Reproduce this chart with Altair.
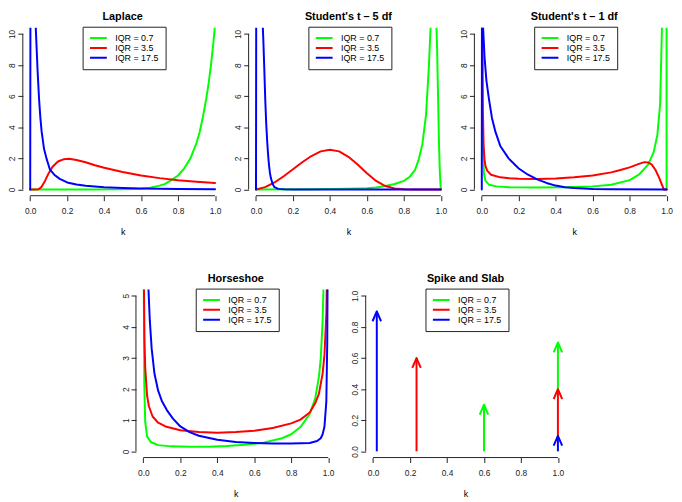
import altair as alt
import pandas as pd

# ---------------- data ----------------
SERIES = ["IQR = 0.7", "IQR = 3.5", "IQR = 17.5"]
COLORS = ["#00ff00", "#ff0000", "#0000ff"]
TITLES = ["Laplace", "Student's t \u2013 5 df", "Student's t \u2013 1 df", "Horseshoe", "Spike and Slab"]
K_TICKS = [0.0, 0.2, 0.4, 0.6, 0.8, 1.0]
Y_TICKS_TOP = [0, 2, 4, 6, 8, 10]
Y_TICKS_HS = [0, 1, 2, 3, 4, 5]
Y_TICKS_SS = [0.0, 0.2, 0.4, 0.6, 0.8, 1.0]

# Laplace
LAP_G_K = [0, 0.3, 0.5, 0.6, 0.65, 0.7, 0.73, 0.77, 0.8, 0.83, 0.867, 0.9, 0.917, 0.935, 0.952, 0.965, 0.977, 0.99, 1.0]
LAP_G_V = [0, 0.0, 0.01, 0.05, 0.12, 0.25, 0.36, 0.65, 0.9, 1.3, 2.0, 3.0, 3.7, 4.7, 5.8, 6.8, 7.9, 9.3, 10.6]
LAP_R_K = [0, 0.03, 0.045, 0.06, 0.08, 0.1, 0.12, 0.15, 0.18, 0.21, 0.25, 0.3, 0.35, 0.4, 0.5, 0.6, 0.7, 0.8, 0.9, 1.0]
LAP_R_V = [0, 0, 0.02, 0.15, 0.55, 1.05, 1.45, 1.8, 1.94, 1.97, 1.9, 1.75, 1.56, 1.4, 1.12, 0.9, 0.73, 0.6, 0.5, 0.42]
LAP_B_K = [0, 0.004, 0.02, 0.03, 0.04, 0.048, 0.055, 0.062, 0.075, 0.088, 0.106, 0.13, 0.16, 0.2, 0.25, 0.3, 0.4, 0.5, 0.6, 0.7, 0.8, 1.0]
LAP_B_V = [0, 40, 15, 10.4, 7.6, 5.8, 4.6, 3.7, 2.6, 2.0, 1.3, 0.95, 0.68, 0.45, 0.32, 0.24, 0.14, 0.09, 0.06, 0.04, 0.03, 0.01]

# Student's t, 5 df
T5_G_K = [0, 0.3, 0.5, 0.6, 0.65, 0.7, 0.75, 0.8, 0.83, 0.86, 0.88, 0.9, 0.92, 0.935, 0.945, 0.96, 0.975, 0.98, 0.985, 0.99, 0.995, 1.0]
T5_G_V = [0, 0.01, 0.04, 0.08, 0.13, 0.22, 0.35, 0.55, 0.8, 1.25, 1.9, 2.9, 4.8, 7.8, 10.5, 14, 11, 9, 6, 3, 1, 0]
T5_R_K = [0, 0.05, 0.1, 0.15, 0.2, 0.25, 0.3, 0.35, 0.4, 0.45, 0.5, 0.55, 0.6, 0.65, 0.7, 0.75, 0.8, 0.85, 1.0]
T5_R_V = [0, 0.15, 0.45, 0.85, 1.3, 1.75, 2.15, 2.45, 2.55, 2.45, 2.1, 1.6, 1.05, 0.55, 0.22, 0.06, 0.01, 0, 0]
T5_B_K = [0, 0.004, 0.02, 0.035, 0.04, 0.045, 0.05, 0.055, 0.06, 0.065, 0.07, 0.075, 0.08, 0.09, 0.1, 0.12, 0.15, 0.2, 1.0]
T5_B_V = [0, 40, 20, 11, 9.5, 7.7, 5.8, 4.3, 3.2, 2.3, 1.6, 1.1, 0.75, 0.35, 0.15, 0.04, 0.01, 0, 0]

# Student's t, 1 df
T1_G_K = [0, 0.003, 0.007, 0.012, 0.02, 0.04, 0.08, 0.15, 0.3, 0.45, 0.6, 0.7, 0.8, 0.85, 0.9, 0.93, 0.95, 0.965, 0.975, 0.985, 0.999, 1.0]
T1_G_V = [30, 5, 2.4, 1.0, 0.55, 0.3, 0.2, 0.15, 0.13, 0.15, 0.2, 0.3, 0.6, 0.95, 1.6, 2.4, 3.5, 5.5, 10.5, 20, 60, 0]
T1_R_K = [0, 0.003, 0.006, 0.01, 0.015, 0.02, 0.03, 0.05, 0.1, 0.15, 0.2, 0.3, 0.4, 0.5, 0.6, 0.7, 0.75, 0.8, 0.85, 0.88, 0.9, 0.92, 0.94, 0.96, 0.975, 0.985, 1.0]
T1_R_V = [30, 10.5, 5, 2.8, 1.9, 1.5, 1.2, 0.95, 0.78, 0.72, 0.69, 0.67, 0.7, 0.78, 0.9, 1.1, 1.25, 1.42, 1.65, 1.76, 1.74, 1.6, 1.25, 0.75, 0.3, 0, 0]
T1_B_K = [0, 0.003, 0.007, 0.015, 0.025, 0.039, 0.055, 0.074, 0.1, 0.145, 0.2, 0.25, 0.3, 0.35, 0.4, 0.45, 0.5, 0.6, 0.7, 1.0]
T1_B_V = [0, 40, 10.4, 8.5, 7.0, 5.8, 4.6, 3.7, 2.8, 2.0, 1.35, 0.95, 0.65, 0.42, 0.25, 0.15, 0.09, 0.03, 0.01, 0]

# Horseshoe
HS_G_K = [0, 0.002, 0.005, 0.01, 0.02, 0.04, 0.08, 0.15, 0.25, 0.35, 0.45, 0.55, 0.65, 0.75, 0.8, 0.85, 0.9, 0.93, 0.95, 0.96, 0.97, 0.98, 0.99]
HS_G_V = [30, 6, 2.2, 0.95, 0.48, 0.3, 0.2, 0.16, 0.15, 0.15, 0.17, 0.21, 0.28, 0.42, 0.55, 0.78, 1.2, 1.7, 2.4, 3.0, 4.2, 6.5, 12]
HS_R_K = [0, 0.003, 0.006, 0.01, 0.02, 0.03, 0.05, 0.08, 0.12, 0.2, 0.3, 0.4, 0.5, 0.6, 0.7, 0.8, 0.85, 0.9, 0.93, 0.95, 0.97, 0.98, 0.99, 0.995, 0.999]
HS_R_V = [30, 5.4, 3.6, 2.7, 1.8, 1.45, 1.12, 0.92, 0.8, 0.68, 0.62, 0.6, 0.62, 0.66, 0.75, 0.9, 1.02, 1.25, 1.55, 1.85, 2.5, 3.1, 4.4, 6.2, 14]
HS_B_K = [0.005, 0.015, 0.027, 0.035, 0.045, 0.06, 0.08, 0.1, 0.13, 0.16, 0.2, 0.25, 0.3, 0.4, 0.5, 0.6, 0.7, 0.8, 0.9, 0.94, 0.96, 0.97, 0.98, 0.99, 0.995, 0.999]
HS_B_V = [14, 8, 5.3, 4.2, 3.3, 2.5, 1.95, 1.62, 1.3, 1.05, 0.8, 0.62, 0.5, 0.37, 0.3, 0.27, 0.25, 0.25, 0.27, 0.33, 0.42, 0.55, 0.8, 1.6, 3.5, 8]

# Spike and slab arrows
SS_SERIES = ["IQR = 0.7", "IQR = 0.7", "IQR = 3.5", "IQR = 3.5", "IQR = 17.5", "IQR = 17.5"]
SS_K = [0.6, 1.0, 0.235, 1.0, 0.02, 1.0]
SS_LO = [0.0, 0.4, 0.0, 0.1, 0.0, 0.0]
SS_HI = [0.3, 0.7, 0.6, 0.4, 0.9, 0.1]

# ---------------- styling ----------------
FONT = "Liberation Sans"
INK = "#222222"
W, H = 202, 170
COL_GAP = 26.5
COL_GAP_2 = 30.5
ROW_GAP = 37
SPACER_W = 83.25
ARROW = "M-0.43,1L0,0L0.43,1"


def k_scale():
    return alt.Scale(domain=[-0.04, 1.04], nice=False, zero=False)


def v_scale(ticks):
    lo, hi = ticks[0], ticks[-1]
    pad = 0.04 * (hi - lo)
    return alt.Scale(domain=[lo - pad, hi + pad], nice=False, zero=False)


X_AXIS = alt.Axis(values=K_TICKS, format=".1f", title="k", domain=False, grid=False,
                  tickSize=5, tickColor=INK, tickWidth=1, labelPadding=6,
                  labelFontSize=8.5, labelFont=FONT, labelColor=INK, labelFlush=False,
                  labelOverlap=False, titleFont=FONT, titleFontSize=9,
                  titleFontWeight="normal", titleColor="#000000", titlePadding=12.5)


def y_axis(ticks, fmt):
    return alt.Axis(values=ticks, format=fmt, title=None, domain=False, grid=False,
                    tickSize=5, tickColor=INK, tickWidth=1, labelAngle=270,
                    labelAlign="center", labelBaseline="bottom", labelPadding=1,
                    labelFontSize=8.5, labelFont=FONT, labelColor=INK,
                    labelFlush=False, labelOverlap=False)


LEGEND = alt.Legend(orient="none", legendX=60.5, legendY=-1, title=None,
                    symbolType="stroke", symbolSize=289, symbolStrokeWidth=2,
                    labelFont=FONT, labelFontSize=9, labelColor="#000000",
                    labelOffset=7.5, padding=6.5, strokeColor=INK, fillColor="white",
                    clipHeight=10, rowPadding=0)


def color_enc():
    return alt.Color("series:N", scale=alt.Scale(domain=SERIES, range=COLORS), legend=LEGEND)


def frame_layers(xs, ys, ya, yticks):
    frame = pd.DataFrame({"k": [K_TICKS[0]], "k2": [K_TICKS[-1]],
                          "v": [yticks[0]], "v2": [yticks[-1]]})
    xline = alt.Chart(frame).mark_rule(color=INK, strokeWidth=1).encode(
        x=alt.X("k:Q", scale=xs, axis=X_AXIS), x2="k2:Q", y=alt.value(H))
    yline = alt.Chart(frame).mark_rule(color=INK, strokeWidth=1).encode(
        x=alt.value(0), y=alt.Y("v:Q", scale=ys, axis=ya), y2="v2:Q")
    return [xline, yline]


def curve_panel(title, curves, yticks, yfmt):
    rows = []
    for s, ks, vs in curves:
        rows += [{"k": k, "v": v, "series": s} for k, v in zip(ks, vs)]
    df = pd.DataFrame(rows)
    xs, ys, ya = k_scale(), v_scale(yticks), y_axis(yticks, yfmt)
    layers = []
    for s in SERIES:
        layers.append(
            alt.Chart(df).transform_filter(alt.datum.series == s)
            .mark_line(clip=True, strokeWidth=2, strokeJoin="round", strokeCap="round")
            .encode(x=alt.X("k:Q", scale=xs, axis=X_AXIS),
                    y=alt.Y("v:Q", scale=ys, axis=ya),
                    color=color_enc())
        )
    layers += frame_layers(xs, ys, ya, yticks)
    return alt.layer(*layers).properties(width=W, height=H, title=title)


def spike_panel(title):
    df = pd.DataFrame({"k": SS_K, "lo": SS_LO, "hi": SS_HI, "series": SS_SERIES})
    xs, ys, ya = k_scale(), v_scale(Y_TICKS_SS), y_axis(Y_TICKS_SS, ".1f")
    shaft = alt.Chart(df).mark_rule(strokeWidth=2, strokeCap="butt").encode(
        x=alt.X("k:Q", scale=xs, axis=X_AXIS),
        y=alt.Y("lo:Q", scale=ys, axis=ya), y2="hi:Q", color=color_enc())
    head = alt.Chart(df).mark_point(shape=ARROW, filled=False, size=400, strokeWidth=2,
                                    opacity=1, strokeJoin="round").encode(
        x=alt.X("k:Q", scale=xs, axis=X_AXIS),
        y=alt.Y("hi:Q", scale=ys, axis=ya), color=color_enc())
    layers = [shaft, head] + frame_layers(xs, ys, ya, Y_TICKS_SS)
    return alt.layer(*layers).properties(width=W, height=H, title=title)


p1 = curve_panel(TITLES[0], [(SERIES[0], LAP_G_K, LAP_G_V), (SERIES[1], LAP_R_K, LAP_R_V),
                             (SERIES[2], LAP_B_K, LAP_B_V)], Y_TICKS_TOP, "d")
p2 = curve_panel(TITLES[1], [(SERIES[0], T5_G_K, T5_G_V), (SERIES[1], T5_R_K, T5_R_V),
                             (SERIES[2], T5_B_K, T5_B_V)], Y_TICKS_TOP, "d")
p3 = curve_panel(TITLES[2], [(SERIES[0], T1_G_K, T1_G_V), (SERIES[1], T1_R_K, T1_R_V),
                             (SERIES[2], T1_B_K, T1_B_V)], Y_TICKS_TOP, "d")
p4 = curve_panel(TITLES[3], [(SERIES[0], HS_G_K, HS_G_V), (SERIES[1], HS_R_K, HS_R_V),
                             (SERIES[2], HS_B_K, HS_B_V)], Y_TICKS_HS, "d")
p5 = spike_panel(TITLES[4])
spacer = alt.Chart(pd.DataFrame({"a": [0]})).mark_point(opacity=0).properties(width=SPACER_W, height=H)


def independent(c):
    return c.resolve_scale(x="independent", y="independent", color="independent").resolve_legend(
        color="independent")


row1 = independent(alt.hconcat(p1, p2, p3, spacing=COL_GAP, bounds="flush"))
row2 = independent(alt.hconcat(spacer, p4, p5, spacing=COL_GAP_2, bounds="flush"))

chart = independent(alt.vconcat(row1, row2, spacing=ROW_GAP)).properties(
    padding=0, background="white"
).configure_view(
    strokeWidth=0
).configure_title(
    font=FONT, fontSize=11, fontWeight="bold", color="#000000", offset=4, anchor="middle"
)

chart.save("out.html", embed_options={"renderer": "svg", "actions": False})
